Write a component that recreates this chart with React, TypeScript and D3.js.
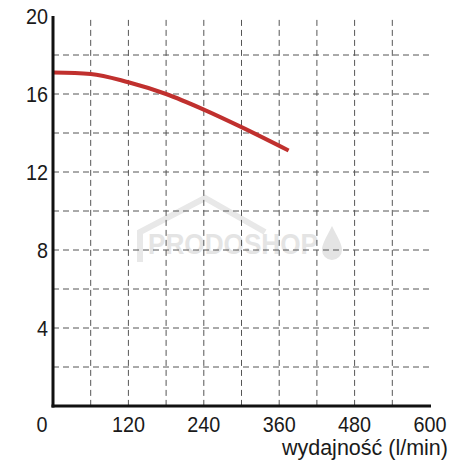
import React from "react";
import * as d3 from "d3";

const flow = [0, 60, 120, 180, 240, 300, 375];
const head = [17.1, 17.03, 16.6, 16.0, 15.2, 14.3, 13.1];
const xTicks = [0, 120, 240, 360, 480, 600];
const yTicks = [4, 8, 12, 16, 20];
const xGrid = [60, 120, 180, 240, 300, 360, 420, 480, 540];
const yGrid = [2, 4, 6, 8, 10, 12, 14, 16, 18];
const xTitle = "wydajność (l/min)";

export default function App() {
  const W = 475, H = 475;
  const x = d3.scaleLinear().domain([0, 600]).range([53, 430]);
  const y = d3.scaleLinear().domain([0, 20]).range([406, 16]);
  const line = d3.line<number>().x((_, i) => x(flow[i])).y((d) => y(d)).curve(d3.curveMonotoneX);
  const font = "Liberation Sans, Arial, sans-serif";
  const sx = 0.9;
  return (
    <svg width={W} height={H} style={{ position: "absolute", left: 0, top: 0, background: "#fff" }}>
      <g fill="#e4e4e4" stroke="none">
        <path d="M140,262 L140,232 L205,198 L265,232" fill="none" stroke="#e8e8e8" strokeWidth={6} />
        <text x={148} y={254} fontFamily={font} fontWeight="bold" fontSize={30} textLength={170} lengthAdjust="spacingAndGlyphs">PRODOSHOP</text>
        <path d="M332,226 C326,238 322,244 322,250 A10,10 0 0 0 342,250 C342,244 338,238 332,226 Z" />
      </g>
      <g stroke="#555" strokeWidth={1} strokeDasharray="6,4">
        {yGrid.map((v) => (
          <line key={"h" + v} x1={x(0)} x2={x(600)} y1={y(v)} y2={y(v)} />
        ))}
        {xGrid.map((v) => (
          <line key={"v" + v} x1={x(v)} x2={x(v)} y1={y(19.8)} y2={y(0)} />
        ))}
      </g>
      <path d={line(head) || ""} fill="none" stroke="#c0302e" strokeWidth={4} strokeLinecap="butt" />
      <line x1={x(0)} x2={x(0)} y1={y(20)} y2={y(0) + 1.5} stroke="#111" strokeWidth={3} />
      <line x1={x(0) - 1.5} x2={x(600) + 1} y1={y(0)} y2={y(0)} stroke="#111" strokeWidth={3} />
      <g fontFamily={font} fontSize={22} fill="#1a1a1a">
        {yTicks.map((v) => (
          <text key={"yt" + v} transform={`translate(${x(0) - 5},${y(v)}) scale(${sx},1)`} dy="0.36em" textAnchor="end">{v}</text>
        ))}
        {xTicks.map((v) => (
          <text key={"xt" + v} transform={`translate(${v === 0 ? x(v) - 11 : x(v)},432) scale(${sx},1)`} textAnchor="middle">{v}</text>
        ))}
        <text x={448} y={455} fontSize={21.5} textAnchor="end">{xTitle}</text>
      </g>
    </svg>
  );
}
